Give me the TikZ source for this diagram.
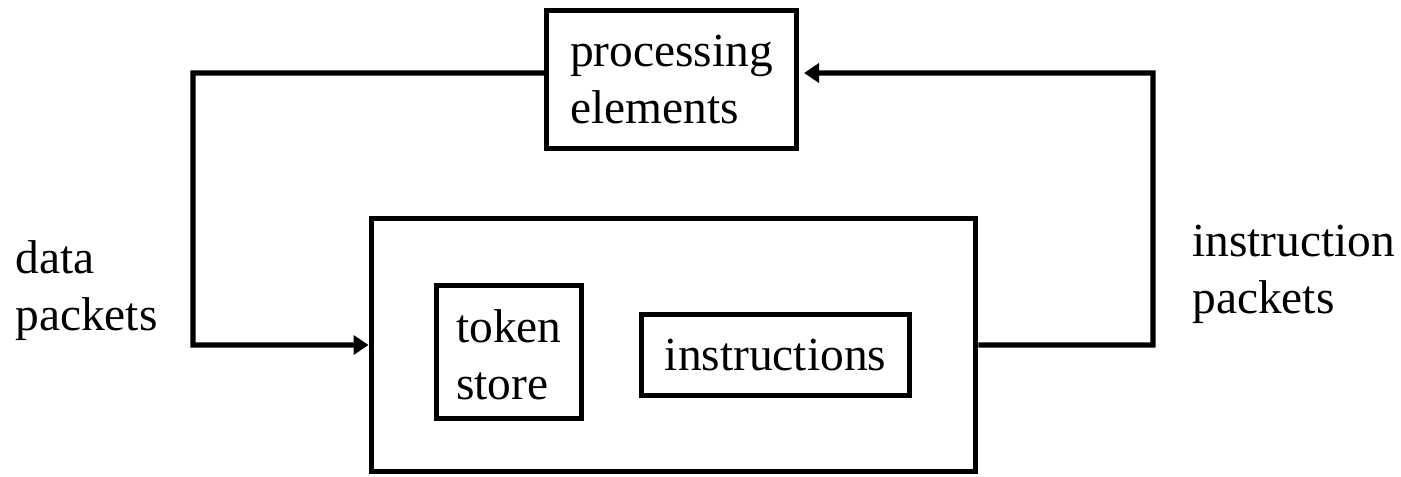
\documentclass[tikz,border=0pt]{standalone}
\usepackage{fontspec}
\setmainfont{Liberation Serif}
\usetikzlibrary{arrows.meta}
\begin{document}
\begin{tikzpicture}[x=0.02cm, y=-0.02cm,
  every node/.style={font=\fontsize{27}{32.3}\selectfont},
  box/.style={draw, line width=3pt, inner sep=0pt, align=left},
  label/.style={inner sep=0pt, align=left, anchor=base west},
  wire/.style={line width=3pt, line join=miter},
  arr/.style={wire, -{Triangle[length=8.5pt, width=10.8pt]}}]
\useasboundingbox (0,0) rectangle (1401,477);
% processing unit on top, memory unit below
\node[box, minimum width=251*0.567pt, minimum height=139*0.567pt] (proc) at (671.5,79.5) {processing\\elements};
\node[box, minimum width=607*0.567pt, minimum height=254*0.567pt] (mem) at (673.5,345) {};
\node[box, minimum width=146*0.567pt, minimum height=134*0.567pt] (tok) at (509,352) {\rule{0pt}{22pt}token\\store};
\node[box, minimum width=269*0.567pt, minimum height=82*0.567pt] (ins) at (775.5,355) {instructions};
% side labels (base anchor sits on the last line)
\node[label] (dlab) at (15,330) {data\\packets};
\node[label] (ilab) at (1192,313) {instruction\\packets};
% feedback loops
\coordinate (lt) at (193,73);
\coordinate (rt) at (1153,73);
\draw[arr] ([yshift=3.7pt]proc.west) -- (lt) |- (mem.west);
\draw[arr, shorten >=2.8pt] (mem.east) -| (rt) -- ([yshift=3.7pt]proc.east);
\end{tikzpicture}
\end{document}
